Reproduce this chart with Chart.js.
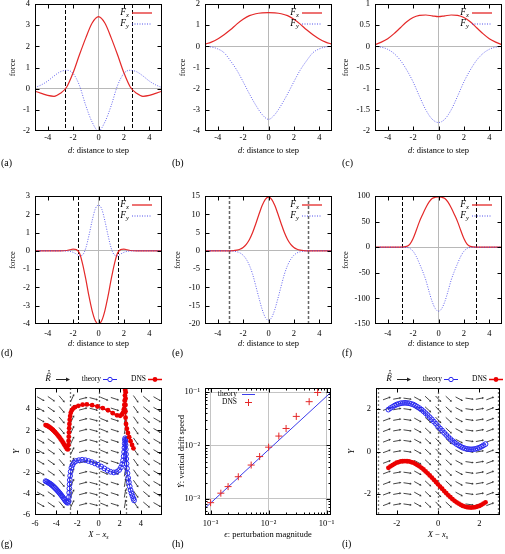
<!DOCTYPE html>
<html>
<head>
<title>Step forces</title>
<script src="https://cdn.jsdelivr.net/npm/chart.js"></script>
<style>
  body { margin: 0; background: #fff; }
  #fig { position: relative; width: 505px; height: 554px; overflow: hidden; background: #fff; }
  #fig canvas { position: absolute; }
</style>
</head>
<body>
<div id="fig"></div>
<script>
// ---- data ----
// (a)-(c): d = distance to step
const D_COARSE = [-5,-4.5,-4,-3.5,-3,-2.5,-2,-1.5,-1,-0.5,0,0.5,1,1.5,2,2.5,3,3.5,4,4.5,5];
const FX_A = [-0.12,-0.22,-0.32,-0.36,-0.22,0.08,0.75,1.6,2.4,3.1,3.4,3.1,2.4,1.6,0.75,0.08,-0.22,-0.36,-0.32,-0.22,-0.12];
const FY_A = [0.05,0.18,0.36,0.6,0.8,0.87,0.72,0.15,-0.8,-1.58,-2.0,-1.58,-0.8,0.15,0.72,0.87,0.8,0.6,0.36,0.18,0.05];
const FX_B = [0.1,0.2,0.35,0.55,0.78,1.05,1.28,1.45,1.54,1.58,1.59,1.58,1.54,1.45,1.28,1.05,0.78,0.55,0.35,0.2,0.1];
const FY_B = [0,-0.03,-0.12,-0.3,-0.68,-1.12,-1.67,-2.25,-2.78,-3.22,-3.45,-3.22,-2.78,-2.25,-1.67,-1.12,-0.68,-0.3,-0.12,-0.03,0];
const FX_C = [0.04,0.1,0.18,0.3,0.44,0.58,0.68,0.73,0.74,0.72,0.7,0.72,0.74,0.73,0.68,0.58,0.44,0.3,0.18,0.1,0.04];
const FY_C = [0,-0.02,-0.07,-0.17,-0.33,-0.56,-0.84,-1.18,-1.5,-1.72,-1.8,-1.72,-1.5,-1.18,-0.84,-0.56,-0.33,-0.17,-0.07,-0.02,0];
// (d)-(f)
const D_FINE = [-5,-4,-3,-2.5,-2.25,-2,-1.75,-1.5,-1.25,-1,-0.75,-0.5,-0.25,0,0.25,0.5,0.75,1,1.25,1.5,1.75,2,2.25,2.5,3,4,5];
const FX_D = [0,0,0,0.02,0.06,0.1,0.07,-0.12,-0.72,-1.55,-2.48,-3.28,-3.82,-4.0,-3.82,-3.28,-2.48,-1.55,-0.72,-0.12,0.07,0.1,0.06,0.02,0,0,0];
const FY_D = [0,0,0,-0.01,-0.03,-0.08,-0.17,-0.27,-0.22,0.15,0.85,1.65,2.3,2.5,2.3,1.65,0.85,0.15,-0.22,-0.27,-0.17,-0.08,-0.03,-0.01,0,0,0];
const FX_E = [0,0,0,0.19,0.44,0.9,1.75,3.1,5,7.4,10,12.4,14.1,14.7,14.1,12.4,10,7.4,5,3.1,1.75,0.9,0.44,0.19,0,0,0];
const FY_E = [0,0,-0.02,-0.25,-0.55,-1.2,-2.3,-4,-6.4,-9.6,-12.9,-16,-18.2,-19,-18.2,-16,-12.9,-9.6,-6.4,-4,-2.3,-1.2,-0.55,-0.25,-0.02,0,0];
const FX_F = [0,0,0,1.5,6,17,33,50,64,77,88,95,97.5,98,97.5,95,88,77,64,50,33,17,6,1.5,0,0,0];
const FY_F = [0,0,0,-0.5,-2.5,-8,-18,-32,-47,-64,-86,-106,-120,-125,-120,-106,-86,-64,-47,-32,-18,-8,-2.5,-0.5,0,0,0];
// step positions (dashed lines)
const STEP_A = [-2.65, 2.6];
const STEP_D = [-1.58, 1.5];
const STEP_E = [-3.08, 3.12];
const STEP_F = [-2.85, 2.92];
const STEP_G = [-2.7, 0, 2.6];
const STEP_I = [-2.9, 0, 2.88];

// (g) trajectories
const G_TH_X = [-5,-4.9,-4.8,-4.7,-4.6,-4.5,-4.4,-4.3,-4.2,-4.1,-4,-3.9,-3.8,-3.7,-3.6,-3.5,-3.4,-3.3,-3.2,-3.1,-3,-2.9,
  -2.82,-2.79,-2.77,-2.75,-2.73,-2.71,-2.68,-2.63,-2.56,-2.46,-2.32,-2.12,
  -1.85,-1.55,-1.25,-0.95,-0.65,-0.35,-0.05,0.25,0.55,0.85,1.15,1.45,1.72,1.95,
  2.12,2.24,2.32,2.38,2.42,2.45,2.48,2.5,2.52,2.54,2.56,2.58,2.6,2.62,2.65,2.69,2.74,2.8,2.87,2.95,3.03,3.12,3.21,3.3,3.36];
const G_TH_Y = [-2.8,-2.85,-2.9,-2.97,-3.03,-3.1,-3.18,-3.27,-3.36,-3.46,-3.56,-3.67,-3.78,-3.9,-4.02,-4.15,-4.28,-4.42,-4.56,-4.7,-4.8,-4.85,
  -4.7,-4.3,-3.9,-3.5,-3.1,-2.7,-2.3,-1.9,-1.55,-1.28,-1.05,-0.9,
  -0.82,-0.78,-0.82,-0.9,-1.0,-1.12,-1.25,-1.42,-1.6,-1.78,-1.92,-1.98,-1.93,-1.75,
  -1.5,-1.2,-0.85,-0.45,-0.05,0.35,0.75,1.1,1.25,1.0,0.6,0.2,-0.25,-0.7,-1.15,-1.6,-2.05,-2.5,-2.9,-3.3,-3.65,-3.95,-4.2,-4.45,-4.62];
const G_DNS_X = [-5,-4.9,-4.8,-4.7,-4.6,-4.5,-4.4,-4.3,-4.2,-4.1,-4,-3.9,-3.8,-3.7,-3.6,-3.5,-3.4,-3.3,-3.2,-3.1,-3,
  -2.9,-2.85,-2.83,-2.81,-2.79,-2.77,-2.75,-2.72,-2.68,-2.62,-2.52,-2.38,-2.2,
  -1.9,-1.5,-1.1,-0.6,-0.1,0.4,0.9,1.35,1.75,
  2.05,2.22,2.33,2.4,2.44,2.47,2.5,2.52,2.54,2.56,
  2.57,2.57,2.56,2.55,2.55,2.56,2.6,2.68,2.78,2.9,3.03,3.17,3.3];
const G_DNS_Y = [2.5,2.46,2.41,2.35,2.28,2.2,2.12,2.03,1.93,1.83,1.72,1.6,1.48,1.35,1.21,1.07,0.92,0.76,0.6,0.43,0.25,
  0.2,0.6,1.0,1.4,1.8,2.2,2.6,3.0,3.35,3.65,3.9,4.08,4.2,
  4.32,4.42,4.45,4.38,4.25,4.1,3.9,3.62,3.42,
  3.38,3.5,3.7,4.0,4.4,4.8,5.3,5.8,6.3,6.8,
  6.2,5.6,5.0,4.4,3.8,3.2,2.6,2.15,1.75,1.35,0.98,0.62,0.3];
// (g) field: direction (degrees) per column
const G_FIELD_X = [-5.5,-4.5,-3.5,-2.5,-1.5,-0.5,0.5,1.5,2.5,3.5,4.5,5.5];
const G_FIELD_Y = [-5,-4,-3,-2,-1,0,1,2,3,4,5];
const G_FIELD_ANGLE = [-30,-35,-50,65,15,-15,-22,-18,80,-55,-40,-30];

// (h) drift speed vs perturbation
const H_EPS = [0.001,0.0015,0.002,0.003,0.005,0.007,0.01,0.015,0.02,0.03,0.05,0.07];
const H_DNS = [0.00085,0.00128,0.0017,0.0026,0.0043,0.0062,0.0093,0.015,0.0208,0.035,0.066,0.098];
const H_THEORY_EPS = [0.0008, 0.12];
const H_THEORY = [0.00067, 0.1];

// (i) trajectories
const I_X = [-2.4,-2.3,-2.2,-2.1,-2,-1.9,-1.8,-1.7,-1.6,-1.5,-1.4,-1.3,-1.2,-1.1,-1,-0.9,-0.8,-0.7,-0.6,-0.5,-0.4,-0.3,-0.2,-0.1,
  0,0.1,0.2,0.3,0.4,0.5,0.6,0.7,0.8,0.9,1,1.1,1.2,1.3,1.4,1.5,1.6,1.7,1.8,1.9,2,2.1,2.2,2.3];
const I_THEORY = [1.98,2.05,2.11,2.17,2.22,2.25,2.28,2.29,2.3,2.29,2.28,2.25,2.22,2.17,2.11,2.05,1.98,1.9,1.81,1.72,1.62,1.52,1.41,1.31,
  1.2,1.09,0.99,0.88,0.78,0.68,0.59,0.5,0.42,0.35,0.29,0.23,0.18,0.15,0.12,0.11,0.1,0.11,0.12,0.15,0.18,0.23,0.29,0.35];
const I_DNS = [-0.77,-0.7,-0.64,-0.58,-0.53,-0.5,-0.47,-0.46,-0.45,-0.46,-0.47,-0.5,-0.53,-0.58,-0.64,-0.7,-0.77,-0.85,-0.94,-1.03,-1.13,-1.23,-1.34,-1.44,
  -1.55,-1.66,-1.76,-1.87,-1.97,-2.07,-2.16,-2.25,-2.33,-2.4,-2.46,-2.52,-2.57,-2.6,-2.63,-2.64,-2.65,-2.64,-2.63,-2.6,-2.57,-2.52,-2.46,-2.4];
const I_FIELD_X = [-2.5,-2,-1.5,-1,-0.5,0,0.5,1,1.5,2,2.5];
const I_FIELD_Y = [-2.5,-2,-1.5,-1,-0.5,0,0.5,1,1.5,2,2.5];
const I_FIELD_ANGLE = [20,10,-8,-28,-42,-46,-42,-28,-8,10,20];

// tick values
const TICKS_D = [-4,-2,0,2,4];
const TICKS_FA = [-2,-1,0,1,2,3,4];
const TICKS_FB = [-4,-3,-2,-1,0,1,2];
const TICKS_FC = [-2,-1.5,-1,-0.5,0,0.5,1];
const TICKS_FD = [-4,-3,-2,-1,0,1,2,3];
const TICKS_FE = [-20,-15,-10,-5,0,5,10,15];
const TICKS_FF = [-150,-100,-50,0,50,100];
const TICKS_G = [-6,-4,-2,0,2,4];
const TICKS_I = [-2,0,2];

// ---- drawing ----
const SERIF = "'Liberation Serif', 'DejaVu Serif', serif";
Chart.defaults.font.family = SERIF;
Chart.defaults.font.size = 8.5;
Chart.defaults.color = '#000';
const RED = 'rgb(228,40,40)', BLUE = 'rgb(60,60,235)';
const fig = document.getElementById('fig');

const COLS = [0, 168, 336], COLW = [168, 168, 169];
const ROWS = [0, 180, 360], ROWH = [180, 180, 194];
const TOPS = [4, 16, 28], BOTS = [131, 144, 155];
const RIGHTS = [162, 164, 166];
const XPAD = [2, 5, 4];
const LAB_X = [1, 4, 6], LAB_Y = [163, 173, 184];

const pts = (xs, ys) => xs.map((x, i) => ({x, y: ys[i]}));
const isPow10 = v => Math.abs(Math.log10(v) - Math.round(Math.log10(v))) < 1e-6;
const SUP = {'-1': '10\u207B\u00B9', '-2': '10\u207B\u00B2', '-3': '10\u207B\u00B3'};

function rich(ctx, parts, x, y, size, align) {
  const fonts = parts.map(([t, s]) => (s ? 'italic ' : '') + (s === 's' ? size * 0.7 : size) + 'px ' + SERIF);
  let w = 0;
  const ws = parts.map(([t], i) => { ctx.font = fonts[i]; const m = ctx.measureText(t).width; w += m; return m; });
  let cx = align === 'center' ? x - w / 2 : align === 'right' ? x - w : x;
  ctx.textAlign = 'left'; ctx.textBaseline = 'middle';
  parts.forEach(([t, s], i) => { ctx.font = fonts[i]; ctx.fillText(t, cx, s === 's' ? y + size * 0.3 : y); cx += ws[i]; });
}

function curve(xs, ys, color, dash) {
  return {data: pts(xs, ys), showLine: true, borderColor: color, borderWidth: dash ? 0.8 : 1.2,
    borderDash: dash || [], pointRadius: 0, cubicInterpolationMode: 'monotone'};
}

function arrows(xs, ys, angles, len) {
  const seg = [], tip = [], rot = [];
  xs.forEach((x0, i) => {
    const t = angles[i] * Math.PI / 180, dx = len / 2 * Math.cos(t), dy = len / 2 * Math.sin(t);
    ys.forEach(y0 => {
      seg.push({x: x0 - dx, y: y0 - dy}, {x: x0 + dx, y: y0 + dy}, {x: x0 + dx, y: null});
      tip.push({x: x0 + dx, y: y0 + dy});
      rot.push(90 - angles[i]);
    });
  });
  return [
    {data: seg, showLine: true, spanGaps: false, borderColor: '#333', borderWidth: 0.9, pointRadius: 0, order: 10},
    {data: tip, pointStyle: 'triangle', pointRadius: 1.3, pointRotation: rot, pointBackgroundColor: '#333', pointBorderWidth: 0, order: 10}
  ];
}

function trajectories(thX, thY, dnsX, dnsY) {
  return [
    {data: pts(dnsX, dnsY), showLine: true, borderColor: 'rgb(235,0,0)', borderWidth: 1.5, pointRadius: 2.4,
      pointBackgroundColor: 'rgb(235,0,0)', pointBorderWidth: 0},
    {data: pts(thX, thY), showLine: true, borderColor: 'rgb(40,40,240)', borderWidth: 1, pointRadius: 2.4,
      pointBackgroundColor: 'rgba(0,0,0,0)', pointBorderColor: 'rgb(40,40,240)', pointBorderWidth: 1}
  ];
}

function forceLegend(ctx, a) {
  [['x', RED, [], 1.3], ['y', BLUE, [1, 1.5], 0.9]].forEach(([s, c, dash, lw], i) => {
    const yy = a.top + 8.5 + i * 11;
    ctx.fillStyle = '#000';
    rich(ctx, [['F', 'i'], [s, 's']], a.right - 33, yy, 9.5, 'right');
    ctx.strokeStyle = c; ctx.lineWidth = lw; ctx.setLineDash(dash);
    ctx.beginPath(); ctx.moveTo(a.right - 30, yy + 0.5); ctx.lineTo(a.right - 10, yy + 0.5); ctx.stroke();
    ctx.setLineDash([]);
  });
}

function fieldLegend(ctx, a) {
  const yy = a.top - 9, L = a.left;
  ctx.fillStyle = '#000';
  rich(ctx, [['R', 'i']], L + 13, yy, 9, 'center');
  // hat and dot over R
  ctx.strokeStyle = '#000'; ctx.lineWidth = 0.7;
  ctx.beginPath(); ctx.moveTo(L + 12, yy - 4.5); ctx.lineTo(L + 14, yy - 6.3); ctx.lineTo(L + 16, yy - 4.5); ctx.stroke();
  ctx.beginPath(); ctx.arc(L + 14, yy - 8.3, 0.7, 0, Math.PI * 2); ctx.fill();
  ctx.strokeStyle = '#222'; ctx.lineWidth = 1;
  ctx.beginPath(); ctx.moveTo(L + 21, yy + 0.5); ctx.lineTo(L + 33, yy + 0.5); ctx.stroke();
  ctx.fillStyle = '#222';
  ctx.beginPath(); ctx.moveTo(L + 35, yy + 0.5); ctx.lineTo(L + 31, yy - 1.5); ctx.lineTo(L + 31, yy + 2.5); ctx.fill();
  ctx.fillStyle = '#000'; ctx.font = '7.5px ' + SERIF; ctx.textAlign = 'right'; ctx.textBaseline = 'middle';
  ctx.fillText('theory', L + 66, yy);
  ctx.fillText('DNS', L + 111, yy);
  ctx.strokeStyle = 'rgb(40,40,240)';
  ctx.beginPath(); ctx.moveTo(L + 68, yy + 0.5); ctx.lineTo(L + 82, yy + 0.5); ctx.stroke();
  ctx.beginPath(); ctx.arc(L + 75, yy + 0.5, 2.2, 0, Math.PI * 2); ctx.fillStyle = '#fff'; ctx.fill(); ctx.stroke();
  ctx.strokeStyle = 'rgb(235,0,0)'; ctx.fillStyle = 'rgb(235,0,0)'; ctx.lineWidth = 1.5;
  ctx.beginPath(); ctx.moveTo(L + 113, yy + 0.5); ctx.lineTo(L + 127, yy + 0.5); ctx.stroke();
  ctx.beginPath(); ctx.arc(L + 120, yy + 0.5, 2.4, 0, Math.PI * 2); ctx.fill();
}

function driftLegend(ctx, a) {
  const L = a.left, T = a.top;
  ctx.fillStyle = '#000'; ctx.font = '7.5px ' + SERIF; ctx.textAlign = 'right'; ctx.textBaseline = 'middle';
  ctx.fillText('theory', L + 32, T + 6);
  ctx.fillText('DNS', L + 32, T + 14);
  ctx.strokeStyle = BLUE; ctx.lineWidth = 1;
  ctx.beginPath(); ctx.moveTo(L + 37, T + 6.5); ctx.lineTo(L + 50, T + 6.5); ctx.stroke();
  ctx.strokeStyle = RED;
  ctx.beginPath(); ctx.moveTo(L + 40, T + 14.5); ctx.lineTo(L + 47, T + 14.5); ctx.moveTo(L + 43.5, T + 11); ctx.lineTo(L + 43.5, T + 18); ctx.stroke();
}

function framePlugin(p) {
  return {
    id: 'frame',
    beforeDatasetsDraw(chart) {
      const {ctx, chartArea: a, scales: {x}} = chart;
      ctx.save();
      ctx.strokeStyle = p.stepColor || '#000'; ctx.lineWidth = p.stepWidth || 1; ctx.setLineDash(p.stepDash || [4, 2]);
      (p.steps || []).forEach(v => {
        const px = Math.round(x.getPixelForValue(v)) + 0.5;
        ctx.beginPath(); ctx.moveTo(px, a.top); ctx.lineTo(px, a.bottom); ctx.stroke();
      });
      ctx.restore();
    },
    afterDraw(chart) {
      const {ctx, chartArea: a, scales: {x, y}} = chart;
      ctx.save();
      ctx.strokeStyle = '#000'; ctx.lineWidth = 1;
      ctx.strokeRect(a.left + 0.5, a.top + 0.5, a.right - a.left - 1, a.bottom - a.top - 1);
      ctx.beginPath();
      x.ticks.forEach(t => {
        const px = Math.round(x.getPixelForValue(t.value)) + 0.5, len = t.minor ? 2.5 : 4.5;
        if (px < a.left + 2 || px > a.right - 2) return;
        ctx.moveTo(px, a.bottom); ctx.lineTo(px, a.bottom - len);
        ctx.moveTo(px, a.top); ctx.lineTo(px, a.top + len);
      });
      y.ticks.forEach(t => {
        const py = Math.round(y.getPixelForValue(t.value)) + 0.5, len = t.minor ? 2.5 : 4.5;
        if (py < a.top + 2 || py > a.bottom - 2) return;
        ctx.moveTo(a.left, py); ctx.lineTo(a.left + len, py);
        ctx.moveTo(a.right, py); ctx.lineTo(a.right - len, py);
      });
      ctx.stroke();
      ctx.fillStyle = '#000';
      rich(ctx, p.xTitle, (a.left + a.right) / 2, a.bottom + 19.5, 8.5, 'center');
      ctx.save();
      ctx.translate(a.left - p.yOff, (a.top + a.bottom) / 2);
      ctx.rotate(-Math.PI / 2);
      rich(ctx, p.yTitle, 0, 0, 8.5, 'center');
      ctx.restore();
      ctx.font = '10px ' + SERIF; ctx.textAlign = 'left'; ctx.textBaseline = 'middle';
      ctx.fillText(p.label, LAB_X[p.col], LAB_Y[p.row]);
      p.legend(ctx, a);
      ctx.restore();
    }
  };
}

function makePanel(p) {
  const cv = document.createElement('canvas');
  const W = COLW[p.col], H = ROWH[p.row];
  cv.width = W; cv.height = H;
  cv.style.left = COLS[p.col] + 'px'; cv.style.top = ROWS[p.row] + 'px';
  fig.appendChild(cv);
  const bottom = BOTS[p.row];
  const gridColor = p.log
    ? (c => c.tick && isPow10(c.tick.value) ? '#c4c4c4' : 'rgba(0,0,0,0)')
    : p.zeroGrid ? (c => c.tick && c.tick.value === 0 ? '#b8b8b8' : 'rgba(0,0,0,0)') : 'rgba(0,0,0,0)';
  const tickList = vals => s => { s.ticks = vals.map(v => ({value: v, minor: p.log ? !isPow10(v) : false})); };
  const label = v => p.log ? (isPow10(v) ? SUP[Math.round(Math.log10(v))] : '') : String(v);
  new Chart(cv, {
    type: 'scatter',
    data: {datasets: p.datasets},
    options: {
      responsive: false,
      animation: false,
      events: [],
      layout: {padding: {left: 0, top: TOPS[p.row], right: W - RIGHTS[p.col], bottom: 0}},
      plugins: {legend: {display: false}, tooltip: {enabled: false}},
      scales: {
        x: {
          type: p.log ? 'logarithmic' : 'linear', min: p.xr[0], max: p.xr[1],
          afterBuildTicks: tickList(p.xt),
          afterFit: s => { s.height = H - bottom; s.paddingLeft = 0; s.paddingRight = 0; },
          grid: {drawTicks: false, color: gridColor, lineWidth: 1},
          border: {display: false},
          ticks: {padding: XPAD[p.row], autoSkip: false, maxRotation: 0, callback: label}
        },
        y: {
          type: p.log ? 'logarithmic' : 'linear', min: p.yr[0], max: p.yr[1],
          afterBuildTicks: tickList(p.yt),
          afterFit: s => { s.width = p.left; s.paddingTop = 0; s.paddingBottom = 0; },
          grid: {drawTicks: false, color: gridColor, lineWidth: 1},
          border: {display: false},
          ticks: {padding: 5, autoSkip: false, callback: label}
        }
      }
    },
    plugins: [framePlugin(p)]
  });
}

const D_TITLE = [['d', 'i'], [': distance to step', '']];
const FORCE = [['force', '']];
const XS_TITLE = [['X', 'i'], [' \u2212 ', ''], ['x', 'i'], ['s', 's']];
const Y_TITLE = [['Y', 'i']];

const forcePanel = (label, col, row, left, yOff, xs, fx, fy, yr, yt, steps, extra) => Object.assign({
  label, col, row, left, yOff, xr: [-5, 5], xt: TICKS_D, yr, yt, steps, zeroGrid: true,
  xTitle: D_TITLE, yTitle: FORCE, legend: forceLegend,
  datasets: [curve(xs, fy, BLUE, [1, 1.5]), curve(xs, fx, RED)]
}, extra || {});

const PANELS = [
  forcePanel('(a)', 0, 0, 35, 22, D_COARSE, FX_A, FY_A, [-2, 4], TICKS_FA, STEP_A),
  forcePanel('(b)', 1, 0, 37, 22, D_COARSE, FX_B, FY_B, [-4, 2], TICKS_FB, []),
  forcePanel('(c)', 2, 0, 39, 29, D_COARSE, FX_C, FY_C, [-2, 1], TICKS_FC, []),
  forcePanel('(d)', 0, 1, 35, 22, D_FINE, FX_D, FY_D, [-4, 3], TICKS_FD, STEP_D),
  forcePanel('(e)', 1, 1, 37, 27, D_FINE, FX_E, FY_E, [-20, 15], TICKS_FE, STEP_E, {stepColor: '#666', stepWidth: 1.5, stepDash: [3, 2]}),
  forcePanel('(f)', 2, 1, 39, 29, D_FINE, FX_F, FY_F, [-150, 100], TICKS_FF, STEP_F),
  {label: '(g)', col: 0, row: 2, left: 35, yOff: 18, xr: [-6, 6], xt: TICKS_G, yr: [-6, 6], yt: TICKS_G,
    steps: STEP_G, stepColor: '#777', stepWidth: 1.3, stepDash: [2, 2],
    xTitle: XS_TITLE, yTitle: Y_TITLE, legend: fieldLegend,
    datasets: [...trajectories(G_TH_X, G_TH_Y, G_DNS_X, G_DNS_Y), ...arrows(G_FIELD_X, G_FIELD_Y, G_FIELD_ANGLE, 0.7)]},
  {label: '(h)', col: 1, row: 2, left: 37, yOff: 23, log: true, xr: [0.0008, 0.119], yr: [0.0005, 0.119],
    xt: [0.0008,0.0009,0.001,0.002,0.003,0.004,0.005,0.006,0.007,0.008,0.009,0.01,0.02,0.03,0.04,0.05,0.06,0.07,0.08,0.09,0.1],
    yt: [0.0005,0.0006,0.0007,0.0008,0.0009,0.001,0.002,0.003,0.004,0.005,0.006,0.007,0.008,0.009,0.01,0.02,0.03,0.04,0.05,0.06,0.07,0.08,0.09,0.1],
    xTitle: [['\u03F5', 'i'], [': perturbation magnitude', '']], yTitle: [['\u1E8E', 'i'], [': vertical drift speed', '']],
    legend: driftLegend,
    datasets: [
      {data: pts(H_EPS, H_DNS), pointStyle: 'cross', pointRadius: 3.5, pointBorderColor: RED, pointBorderWidth: 1},
      {data: pts(H_THEORY_EPS, H_THEORY), showLine: true, borderColor: BLUE, borderWidth: 1, pointRadius: 0}
    ]},
  {label: '(i)', col: 2, row: 2, left: 40, yOff: 24, xr: [-3, 3], xt: TICKS_I, yr: [-3, 3], yt: TICKS_I,
    steps: STEP_I, stepColor: '#777', stepWidth: 1.3, stepDash: [2, 2],
    xTitle: XS_TITLE, yTitle: Y_TITLE, legend: fieldLegend,
    datasets: [...trajectories(I_X, I_THEORY, I_X, I_DNS), ...arrows(I_FIELD_X, I_FIELD_Y, I_FIELD_ANGLE, 0.34)]}
];

PANELS.forEach(makePanel);
</script>
</body>
</html>
